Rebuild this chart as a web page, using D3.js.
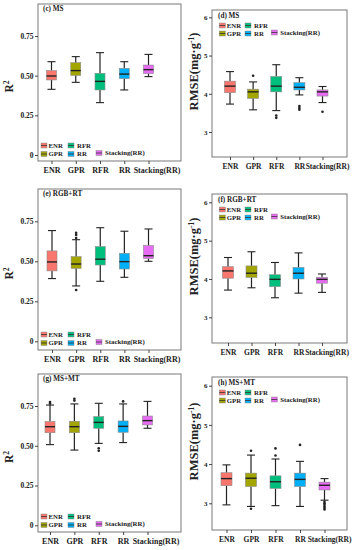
<!DOCTYPE html>
<html><head><meta charset="utf-8">
<script src="https://cdn.jsdelivr.net/npm/d3@7/dist/d3.min.js"></script>
<style>
html,body{margin:0;padding:0;background:#fff;}
svg{display:block;}
text{font-family:"Liberation Serif","Times New Roman",serif;font-weight:bold;fill:#222;}
</style></head>
<body>
<script>
// ---------- DATA ----------
const categories = ["ENR", "GPR", "RFR", "RR", "Stacking(RR)"];
const r2Ticks = [0, 0.25, 0.5, 0.75];
const r2TickLabels = ["0", "0.25", "0.50", "0.75"];
const rmseTicks = [3, 4, 5, 6];
const rmseTickLabels = ["3", "4", "5", "6"];

// [lower whisker, Q1, median, Q3, upper whisker]
const statsMS_R2 = [
  [0.414, 0.473, 0.498, 0.532, 0.588],
  [0.458, 0.502, 0.532, 0.582, 0.620],
  [0.330, 0.410, 0.464, 0.515, 0.645],
  [0.410, 0.481, 0.510, 0.546, 0.588],
  [0.494, 0.513, 0.538, 0.567, 0.634]
];
const outMS_R2 = [[], [], [], [], []];

const statsMS_RMSE = [
  [3.73, 4.03, 4.20, 4.33, 4.58],
  [3.58, 3.88, 4.05, 4.12, 4.31],
  [3.56, 4.05, 4.20, 4.45, 4.76],
  [3.97, 4.10, 4.17, 4.29, 4.42],
  [3.77, 3.94, 4.05, 4.10, 4.19]
];
const outMS_RMSE = [[], [4.47], [3.43, 3.37], [3.68, 3.63, 3.58], [3.53]];

const statsRGB_R2 = [
  [0.392, 0.440, 0.496, 0.565, 0.692],
  [0.346, 0.456, 0.483, 0.529, 0.635],
  [0.375, 0.477, 0.513, 0.592, 0.710],
  [0.400, 0.452, 0.498, 0.550, 0.688],
  [0.500, 0.517, 0.535, 0.598, 0.702]
];
const outRGB_R2 = [[], [0.678, 0.665, 0.645, 0.321], [], [], []];

const statsRGB_RMSE = [
  [3.71, 4.02, 4.21, 4.32, 4.56],
  [3.77, 4.04, 4.15, 4.34, 4.71],
  [3.51, 3.80, 3.99, 4.11, 4.43],
  [3.63, 4.00, 4.15, 4.30, 4.68],
  [3.65, 3.89, 3.99, 4.04, 4.13]
];
const outRGB_RMSE = [[], [], [], [], []];

const statsMSMT_R2 = [
  [0.507, 0.582, 0.620, 0.652, 0.756],
  [0.473, 0.582, 0.620, 0.654, 0.763],
  [0.515, 0.610, 0.647, 0.683, 0.767],
  [0.520, 0.585, 0.622, 0.656, 0.763],
  [0.610, 0.631, 0.658, 0.687, 0.779]
];
const outMSMT_R2 = [[0.775, 0.765], [0.796, 0.784], [0.484, 0.469], [0.779], []];

const statsMSMT_RMSE = [
  [2.96, 3.45, 3.63, 3.78, 3.98],
  [2.92, 3.43, 3.64, 3.77, 4.23],
  [2.94, 3.38, 3.55, 3.70, 4.13],
  [2.92, 3.43, 3.61, 3.77, 4.07],
  [3.08, 3.34, 3.46, 3.54, 3.63]
];
const outMSMT_RMSE = [[], [4.34, 2.86], [4.40, 4.22], [4.49], [3.04, 3.00, 2.96, 2.92, 2.88, 2.84]];

// ---------- STYLE / LAYOUT ----------
const colors = ["#F8766D", "#A3A500", "#00BF7D", "#00B0F6", "#E76BF3"];
const W = 356, H = 550;
const svg = d3.select("body").append("svg").attr("width", W).attr("height", H);

const panels = [
  {title:"(c) MS", kind:"r2", x0:38, x1:181, y0:4, y1:161, y0v:155, ytv:36, xr:[51.5,148.5], stats:statsMS_R2, out:outMS_R2},
  {title:"(d) MS", kind:"rmse", x0:212, x1:347, y0:10, y1:157, y0v:132, ytv:17.3, xr:[230,322.5], stats:statsMS_RMSE, out:outMS_RMSE},
  {title:"(e) RGB+RT", kind:"r2", x0:38, x1:181, y0:189, y1:350, y0v:341.3, ytv:221.3, xr:[52,148.5], stats:statsRGB_R2, out:outRGB_R2},
  {title:"(f) RGB+RT", kind:"rmse", x0:212, x1:347, y0:194, y1:343, y0v:317.3, ytv:202.3, xr:[228,322], stats:statsRGB_RMSE, out:outRGB_RMSE},
  {title:"(g) MS+MT", kind:"r2", x0:38, x1:181, y0:374, y1:532, y0v:525.3, ytv:406, xr:[50,147.5], stats:statsMSMT_R2, out:outMSMT_R2},
  {title:"(h) MS+MT", kind:"rmse", x0:212, x1:347, y0:377, y1:530, y0v:503.3, ytv:385.7, xr:[226.5,324.5], stats:statsMSMT_RMSE, out:outMSMT_RMSE}
];

panels.forEach(p => {
  const g = svg.append("g");
  const isR2 = p.kind === "r2";
  const y = d3.scaleLinear().domain(isR2 ? [0, 0.75] : [3, 6]).range([p.y0v, p.ytv]);
  const x = d3.scalePoint().domain(categories).range(p.xr);
  const bw = isR2 ? 10 : 11;
  const cw = 8;

  // frame
  g.append("rect").attr("x", p.x0).attr("y", p.y0).attr("width", p.x1 - p.x0).attr("height", p.y1 - p.y0)
    .attr("fill", "none").attr("stroke", "#6a6a6a").attr("stroke-width", 0.9);

  // y axis
  const ticks = isR2 ? r2Ticks : rmseTicks;
  const labels = isR2 ? r2TickLabels : rmseTickLabels;
  const ya = g.append("g").attr("transform", `translate(${p.x0},0)`)
    .call(d3.axisLeft(y).tickValues(ticks).tickFormat((d, i) => labels[i]).tickSize(3).tickPadding(1.5));
  ya.select(".domain").remove();
  ya.selectAll("line").attr("stroke", "#333").attr("stroke-width", 0.9);
  ya.selectAll("text").attr("font-size", isR2 ? 7.5 : 7).attr("font-family", '"Liberation Serif",serif').attr("font-weight", "bold").attr("fill", "#333");

  // x axis
  const xa = g.append("g").attr("transform", `translate(0,${p.y1})`)
    .call(d3.axisBottom(x).tickSize(3).tickPadding(3.5));
  xa.select(".domain").remove();
  xa.selectAll("line").attr("stroke", "#333").attr("stroke-width", 0.9);
  xa.selectAll("text").attr("font-size", isR2 ? 8 : 7.5).attr("font-family", '"Liberation Serif",serif').attr("font-weight", "bold").attr("fill", "#222")
    .attr("dx", (d, i) => i === 4 ? (isR2 ? 8 : 4.5) : (i === 3 ? (isR2 ? 0 : 0) : 0));

  // boxes
  p.stats.forEach((s, i) => {
    const cx = x(categories[i]);
    const bg = g.append("g");
    bg.append("line").attr("x1", cx).attr("x2", cx).attr("y1", y(s[4])).attr("y2", y(s[3]))
      .attr("stroke", "#222").attr("stroke-width", 1.2);
    bg.append("line").attr("x1", cx).attr("x2", cx).attr("y1", y(s[1])).attr("y2", y(s[0]))
      .attr("stroke", "#222").attr("stroke-width", 1.2);
    [s[0], s[4]].forEach(v => {
      bg.append("line").attr("x1", cx - cw / 2).attr("x2", cx + cw / 2).attr("y1", y(v)).attr("y2", y(v))
        .attr("stroke", "#222").attr("stroke-width", 1.1);
    });
    bg.append("rect").attr("x", cx - bw / 2).attr("width", bw).attr("y", y(s[3])).attr("height", y(s[1]) - y(s[3]))
      .attr("fill", colors[i]).attr("stroke", "#8a8a8a").attr("stroke-width", 0.6);
    bg.append("line").attr("x1", cx - bw / 2).attr("x2", cx + bw / 2).attr("y1", y(s[2])).attr("y2", y(s[2]))
      .attr("stroke", "#222").attr("stroke-width", 1.4);
    p.out[i].forEach(v => {
      bg.append("circle").attr("cx", cx).attr("cy", y(v)).attr("r", 1.3).attr("fill", "#222");
    });
  });

  // title
  g.append("text").attr("x", p.x0 + (isR2 ? 5 : 6)).attr("y", p.y0 + (isR2 ? 7 : 8)).attr("font-size", 7.2)
    .text(p.title);

  // legend
  const rowY = isR2 ? [p.y1 - 15.5, p.y1 - 7] : [p.y0 + 15.5, p.y0 + 23.5];
  const colX = isR2 ? [p.x0 + 3, p.x0 + 30, p.x0 + 58] : [p.x0 + 7.3, p.x0 + 33, p.x0 + 59.3];
  const pos = [[0, 0], [0, 1], [1, 0], [1, 1], [2, 1]];
  categories.forEach((c, i) => {
    const kx = colX[pos[i][0]], ky = rowY[pos[i][1]] - (i === 4 ? 1 : 0);
    const lg = g.append("g");
    lg.append("rect").attr("x", kx).attr("y", ky - 2.5).attr("width", 6).attr("height", 5)
      .attr("fill", colors[i]).attr("stroke", "#8a8a8a").attr("stroke-width", 0.5);
    lg.append("line").attr("x1", kx).attr("x2", kx + 6).attr("y1", ky).attr("y2", ky).attr("stroke", "#333").attr("stroke-width", 0.8);
    lg.append("text").attr("x", kx + (pos[i][0] === 0 ? 7.5 : 9)).attr("y", ky + 2.4).attr("font-size", 6.8).text(c);
  });

  // y label
  const cy = isR2 ? (p.y0 + p.y1) / 2 + 4 : (p.y0 + p.y1) / 2 - 12;
  const lx = isR2 ? 13 : 198;
  const t = g.append("text").attr("transform", `translate(${lx},${cy}) rotate(-90)`).attr("text-anchor", "middle")
    .attr("font-size", isR2 ? 11.5 : 12.5).attr("fill", "#111");
  if (isR2) {
    t.append("tspan").text("R");
    t.append("tspan").attr("dy", -4).attr("font-size", 7.5).text("2");
  } else {
    t.append("tspan").text("RMSE(mg·g");
    t.append("tspan").attr("dy", -4.5).attr("font-size", 7.5).text("-1");
    t.append("tspan").attr("dy", 4.5).text(")");
  }
});
</script>
</body></html>
